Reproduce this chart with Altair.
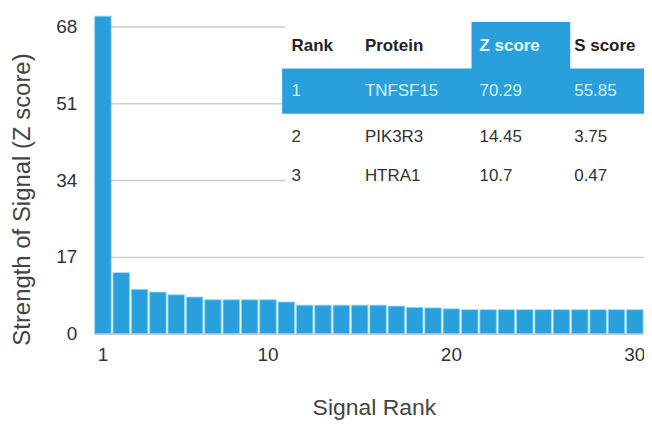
import altair as alt
import pandas as pd

# ---- data ----
ranks = list(range(1, 31))
z_values = [70.29, 13.5, 9.8, 9.2, 8.6, 8.1, 7.5, 7.5, 7.5, 7.5,
            7.0, 6.3, 6.3, 6.3, 6.3, 6.3, 6.1, 5.8, 5.7, 5.5,
            5.3, 5.3, 5.3, 5.3, 5.3, 5.3, 5.3, 5.3, 5.3, 5.3]
y_ticks = [0, 17, 34, 51, 68]
x_ticks = [1, 10, 20, 30]

table_header = ["Rank", "Protein", "Z score", "S score"]
table_rank = ["1", "2", "3"]
table_protein = ["TNFSF15", "PIK3R3", "HTRA1"]
table_z = ["70.29", "14.45", "10.7"]
table_s = ["55.85", "3.75", "0.47"]

BLUE = "#29a0db"
FONT = "Liberation Sans"

df = pd.DataFrame({"rank": ranks, "z": z_values})

bars = alt.Chart(df).mark_bar(color=BLUE, stroke="#8fd6f4", strokeWidth=0.8).encode(
    x=alt.X("rank:O",
            scale=alt.Scale(paddingInner=0.1, paddingOuter=0.05),
            axis=alt.Axis(values=x_ticks, labelAngle=0, ticks=False, domain=False,
                          labelFontSize=19, labelColor="#333", labelFont=FONT,
                          labelPadding=12, grid=False,
                          title="Signal Rank", titleFontSize=23, titleFont=FONT,
                          titleFontWeight="normal", titleColor="#444",
                          titleX=281, titleY=74, titleBaseline="middle",
                          titleAlign="center", titleAnchor="middle")),
    y=alt.Y("z:Q",
            scale=alt.Scale(domain=[0, 70.4], nice=False, zero=True),
            axis=alt.Axis(values=y_ticks, ticks=False, tickSize=0, domain=False,
                          grid=True, gridColor="#cccccc", gridWidth=1.5,
                          labelFontSize=19, labelColor="#333", labelFont=FONT,
                          labelPadding=17,
                          title="Strength of Signal (Z score)", titleFontSize=24,
                          titleFont=FONT, titleFontWeight="normal", titleColor="#444",
                          titleX=-71, titleY=184, titleAngle=270,
                          titleBaseline="middle", titleAlign="center")),
)

layers = [bars]

one = pd.DataFrame({"a": [0]})

# white table background, highlighted row 1 and highlighted Z score header
def rect(x, x2, y, y2, color):
    return alt.Chart(one).mark_rect(color=color).encode(
        x=alt.value(x), x2=alt.value(x2), y=alt.value(y), y2=alt.value(y2))

layers.append(rect(192, 558, 4, 186, "white"))
layers.append(rect(189, 556, 53, 98.5, BLUE))
layers.append(rect(379, 478, 6.5, 53.5, BLUE))

col_x = [198.5, 272, 387, 482]
row_y = [30.5, 75.5, 122, 161]

def txt(s, x, y, color, weight="normal"):
    return alt.Chart(one).mark_text(
        text=s, align="left", baseline="middle", fontSize=17, font=FONT,
        fontWeight=weight, color=color).encode(x=alt.value(x), y=alt.value(y))

for ci, h in enumerate(table_header):
    layers.append(txt(h, col_x[ci], row_y[0], "#e4f5fc" if ci == 2 else "#222", "bold"))

columns = [table_rank, table_protein, table_z, table_s]
for ci, col in enumerate(columns):
    for ri, val in enumerate(col):
        color = "#d6f1fb" if ri == 0 else "#333"
        layers.append(txt(val, col_x[ci], row_y[ri + 1], color))

chart = alt.layer(*layers).properties(
    width=552, height=319,
    autosize=alt.AutoSizeParams(type="none"),
    padding={"left": 86, "top": 7, "right": 0, "bottom": 92},
    background="white",
).configure_view(stroke=None)

chart.save("out.html", embed_options={"renderer": "svg", "actions": False})
